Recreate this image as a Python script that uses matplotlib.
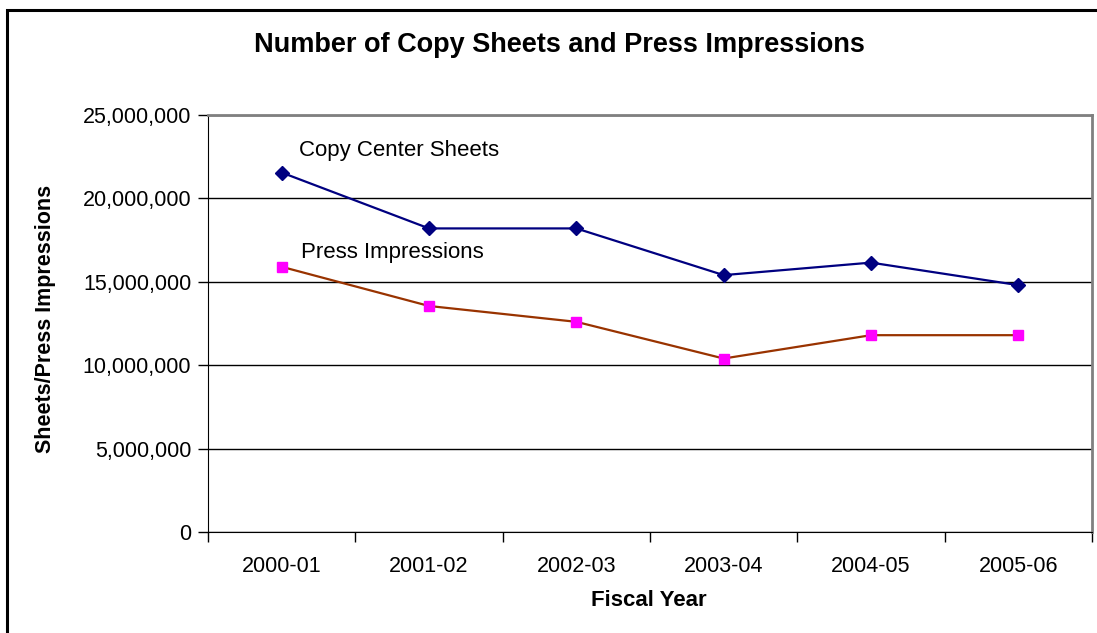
import matplotlib.pyplot as plt
from matplotlib.patches import Rectangle
from matplotlib.ticker import FuncFormatter

plt.rcParams['font.family'] = ['Liberation Sans', 'DejaVu Sans']

# 데이터
years = ['2000-01', '2001-02', '2002-03', '2003-04', '2004-05', '2005-06']
copy_sheets = [21550000, 18200000, 18200000, 15400000, 16150000, 14800000]
press_impressions = [15900000, 13550000, 12600000, 10400000, 11800000, 11800000]

fig = plt.figure(figsize=(10.97, 6.33), dpi=100)
ax = fig.add_axes([208 / 1097, 1 - 532 / 633, 884 / 1097, 417 / 633])

# 바깥 테두리
fig.patches.append(Rectangle((7 / 1097, -0.1), 1.2, 1 - 10 / 633 + 0.1,
                             transform=fig.transFigure, fill=False,
                             edgecolor='black', linewidth=2.2))

x = range(len(years))
ax.plot(x, copy_sheets, color='#000080', linewidth=1.6, marker='D',
        markersize=7, markerfacecolor='#000080', markeredgecolor='#000080')
ax.plot(x, press_impressions, color='#993300', linewidth=1.6, marker='s',
        markersize=7, markerfacecolor='#FF00FF', markeredgecolor='#FF00FF')

ax.set_xlim(-0.5, len(years) - 0.5)
ax.set_ylim(0, 25000000)
ax.set_yticks(range(0, 25000001, 5000000))
ax.yaxis.set_major_formatter(FuncFormatter(lambda v, p: f'{int(v):,}'))

# x축 눈금은 구간 경계, 라벨은 가운데
ax.set_xticks([i - 0.5 for i in range(len(years) + 1)])
ax.set_xticklabels([])
ax.set_xticks(list(x), minor=True)
ax.set_xticklabels(years, minor=True)
ax.tick_params(axis='x', which='major', direction='out', length=7, width=1)
ax.tick_params(axis='x', which='minor', length=0, pad=17, labelsize=15.5)
ax.tick_params(axis='y', direction='out', length=7, width=1, pad=5, labelsize=15.5)

ax.grid(axis='y', color='black', linewidth=1)
ax.set_axisbelow(True)
for s in ['left', 'bottom']:
    ax.spines[s].set_color('black')
for s in ['top', 'right']:
    ax.spines[s].set_color('#808080')
    ax.spines[s].set_linewidth(2)

ax.text(0.12, 22850000, 'Copy Center Sheets', fontsize=16, va='center')
ax.text(0.13, 16750000, 'Press Impressions', fontsize=16, va='center')

fig.text(559 / 1097, 1 - 45 / 633, 'Number of Copy Sheets and Press Impressions',
         fontsize=19.5, fontweight='bold', ha='center', va='center')
fig.text(649 / 1097, 1 - 600 / 633, 'Fiscal Year', fontsize=16,
         fontweight='bold', ha='center', va='center')
fig.text(46 / 1097, 1 - 319 / 633, 'Sheets/Press Impressions', fontsize=15.5,
         fontweight='bold', ha='center', va='center', rotation=90)

fig.savefig('out.png', dpi=100)
